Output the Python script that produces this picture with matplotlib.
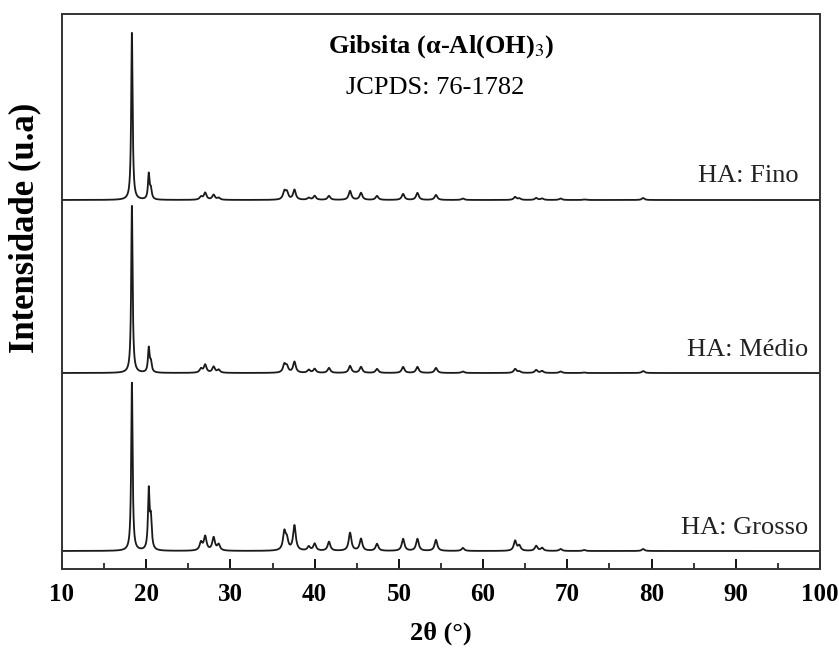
import matplotlib.pyplot as plt
import numpy as np

plt.rcParams['font.family'] = ['Liberation Serif', 'DejaVu Serif']
plt.rcParams['mathtext.fontset'] = 'stix'

# posicoes dos picos (2theta, graus) e alturas (u.a.)
picos = [18.3, 20.3, 20.55, 26.5, 27.0, 28.0, 28.6, 36.4, 36.7, 37.6, 39.3, 40.0,
         41.7, 44.2, 45.5, 47.4, 50.5, 52.2, 54.4, 57.6, 63.8, 64.3, 66.3, 67.0,
         69.2, 72.0, 79.0]
larguras = [0.1, 0.11, 0.13] + [0.19] * 24
fino = [167, 25, 10, 3, 7, 5, 2, 8, 7, 10, 2, 4, 4, 9, 7, 4, 6, 7, 5, 1.5, 3, 1.5,
        2, 1.5, 1.5, 0.5, 2]
medio = [167, 24, 10, 4, 8, 6, 3, 8, 6, 11, 3, 4, 5, 7, 6, 4, 6, 6, 5, 1.5, 4, 1.5,
         3, 2, 1.5, 0.5, 2]
grosso = [168, 58, 30, 8, 14, 13, 6, 18, 10, 25, 4, 7, 9, 18, 12, 7, 12, 12, 11, 3,
          10, 5, 5, 3, 2, 1, 2]
amostras = ['HA: Fino', 'HA: Médio', 'HA: Grosso']
deslocamentos = [369, 196, 18]


def perfil(x, alturas):
    y = np.zeros_like(x)
    for p, h, g in zip(picos, alturas, larguras):
        y += h / (1 + ((x - p) / g) ** 2)
    return y


x = np.linspace(10, 100, 9001)

fig = plt.figure(figsize=(8.39, 6.55), dpi=100)
ax = fig.add_axes([62 / 839, 1 - 569 / 655, 758 / 839, 555 / 655])

for alt, off in zip([fino, medio, grosso], deslocamentos):
    ax.plot(x, perfil(x, alt) + off, color='#1a1a1a', lw=1.3)

ax.set_xlim(10, 100)
ax.set_ylim(0, 555)
ax.set_xticks(np.arange(10, 101, 10))
ax.set_xticks(np.arange(15, 100, 10), minor=True)
ax.set_yticks([])
ax.tick_params(axis='x', which='major', direction='in', length=7, width=1.3,
               labelsize=18, pad=10)
ax.tick_params(axis='x', which='minor', direction='in', length=4, width=1.1)
for lbl in ax.get_xticklabels():
    lbl.set_fontweight('bold')
for s in ax.spines.values():
    s.set_linewidth(1.4)
    s.set_color('#333333')

ax.text(0.5, 0.9405, 'Gibsita (α-Al(OH)$_3$)', transform=ax.transAxes,
        ha='center', va='center', fontsize=19, fontweight='bold')
ax.text(0.492, 0.867, 'JCPDS: 76-1782', transform=ax.transAxes,
        ha='center', va='center', fontsize=19)

pos_rotulos = [(0.972, 0.708), (0.984, 0.395), (0.984, 0.074)]
for nome, (px, py) in zip(amostras, pos_rotulos):
    ax.text(px, py, nome, transform=ax.transAxes, ha='right', va='center',
            fontsize=19, color='#222222')

ax.text(-0.049, 0.614, 'Intensidade (u.a)', transform=ax.transAxes, rotation=90,
        ha='center', va='center', fontsize=25, fontweight='bold')
ax.text(0.5, -0.115, '2θ (°)', transform=ax.transAxes,
        ha='center', va='center', fontsize=19, fontweight='bold')

fig.savefig('out.png', dpi=100)
